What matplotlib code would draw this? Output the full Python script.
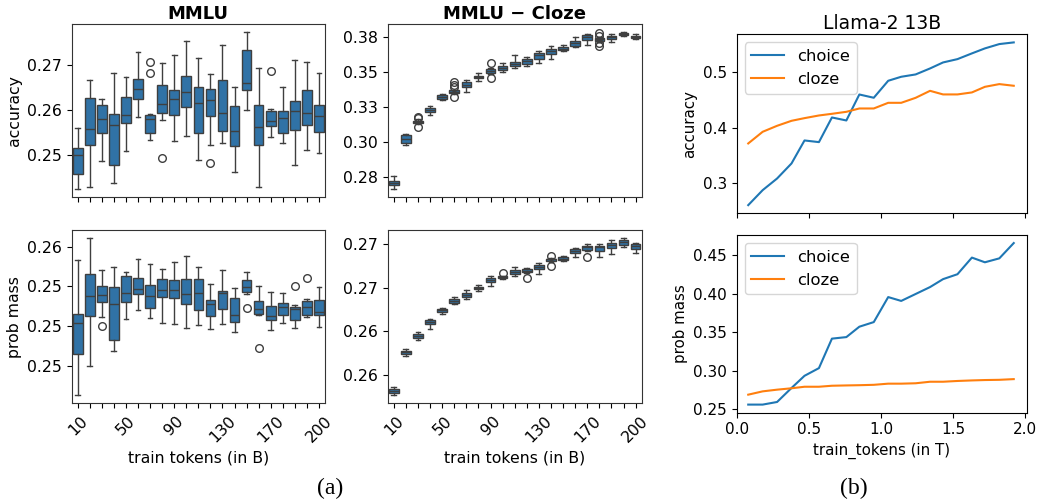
import matplotlib.pyplot as plt
from matplotlib.ticker import FormatStrFormatter

# 21 checkpoints per box panel, only every fourth one is labelled
tick_labels = ['10', '', '', '', '50', '', '', '', '90', '', '', '',
               '130', '', '', '', '170', '', '', '', '200']

# MMLU accuracy (box stats per checkpoint)
acc_whislo = [0.24252, 0.24289, 0.24874, 0.24385, 0.25089, 0.25837, 0.25326, 0.25778, 0.25311, 0.25422, 0.24881,
              0.25222, 0.25259, 0.24630, 0.26000, 0.24289, 0.25393, 0.25274, 0.24785, 0.25111, 0.25052]
acc_q1 = [0.24585, 0.25230, 0.25481, 0.24785, 0.25704, 0.26252, 0.25489, 0.25941, 0.25881, 0.26067, 0.25489,
          0.25874, 0.25533, 0.25207, 0.26437, 0.25222, 0.25637, 0.25489, 0.25563, 0.25667, 0.25511]
acc_med = [0.24993, 0.25570, 0.25807, 0.25659, 0.25881, 0.26459, 0.25807, 0.26126, 0.26252, 0.26400, 0.26163,
           0.26222, 0.25926, 0.25526, 0.26593, 0.25622, 0.25748, 0.25830, 0.25985, 0.25933, 0.25874]
acc_q3 = [0.25163, 0.26267, 0.26119, 0.25919, 0.26289, 0.26681, 0.25896, 0.26556, 0.26437, 0.26756, 0.26511,
          0.26474, 0.26667, 0.26081, 0.27341, 0.26119, 0.25970, 0.25970, 0.26193, 0.26452, 0.26104]
acc_whishi = [0.25607, 0.26659, 0.26252, 0.26822, 0.26741, 0.27289, 0.25919, 0.27052, 0.27215, 0.27526, 0.27163,
              0.26793, 0.27437, 0.26519, 0.27726, 0.26941, 0.26030, 0.26519, 0.27111, 0.27074, 0.26815]
acc_fliers = {6: [0.27067, 0.26822], 7: [0.24941], 11: [0.24830], 16: [0.26874]}

# MMLU - Cloze accuracy
cz_whislo = [0.26667, 0.29810, 0.31262, 0.31952, 0.33000, 0.33429, 0.33571, 0.34381, 0.34857, 0.35024, 0.35286,
             0.35405, 0.35619, 0.35952, 0.36476, 0.36786, 0.36929, 0.37119, 0.37119, 0.37571, 0.37310]
cz_q1 = [0.26952, 0.29952, 0.31357, 0.32167, 0.33071, 0.33500, 0.33905, 0.34571, 0.34929, 0.35119, 0.35429,
         0.35548, 0.35952, 0.36310, 0.36571, 0.36857, 0.37286, 0.37190, 0.37310, 0.37619, 0.37429]
cz_med = [0.27119, 0.30190, 0.31429, 0.32310, 0.33238, 0.33595, 0.34095, 0.34643, 0.35071, 0.35262, 0.35571,
          0.35786, 0.36190, 0.36476, 0.36667, 0.37071, 0.37476, 0.37310, 0.37452, 0.37714, 0.37500]
cz_q3 = [0.27262, 0.30476, 0.31524, 0.32429, 0.33357, 0.33690, 0.34262, 0.34738, 0.35190, 0.35429, 0.35738,
         0.35952, 0.36333, 0.36619, 0.36762, 0.37190, 0.37619, 0.37405, 0.37571, 0.37786, 0.37571]
cz_whishi = [0.27571, 0.30548, 0.31619, 0.32571, 0.33452, 0.33738, 0.34405, 0.34905, 0.35262, 0.35643, 0.36214,
             0.36095, 0.36476, 0.36833, 0.36881, 0.37476, 0.37690, 0.37452, 0.37667, 0.37833, 0.37714]
cz_fliers = {2: [0.31810, 0.31690, 0.31071], 5: [0.34286, 0.34095, 0.33952, 0.33190],
             8: [0.35619, 0.34548], 17: [0.37738, 0.37571, 0.37024, 0.36833]}

# MMLU prob mass on the answer options
pm_whislo = [0.24561, 0.24748, 0.25054, 0.24841, 0.25045, 0.25098, 0.25049, 0.25020, 0.25011, 0.24986, 0.25005,
             0.24984, 0.25011, 0.24962, 0.25202, 0.25069, 0.24977, 0.25022, 0.24990, 0.25054, 0.24994]
pm_q1 = [0.24826, 0.25064, 0.25154, 0.24913, 0.25154, 0.25200, 0.25111, 0.25181, 0.25175, 0.25139, 0.25100,
         0.25064, 0.25107, 0.25026, 0.25215, 0.25073, 0.25041, 0.25069, 0.25041, 0.25069, 0.25069]
pm_med = [0.25022, 0.25192, 0.25198, 0.25139, 0.25207, 0.25232, 0.25188, 0.25228, 0.25228, 0.25202, 0.25209,
          0.25139, 0.25207, 0.25071, 0.25249, 0.25105, 0.25062, 0.25120, 0.25107, 0.25117, 0.25086]
pm_q3 = [0.25075, 0.25326, 0.25253, 0.25249, 0.25315, 0.25302, 0.25258, 0.25294, 0.25288, 0.25298, 0.25298,
         0.25162, 0.25219, 0.25175, 0.25292, 0.25158, 0.25128, 0.25143, 0.25117, 0.25156, 0.25166]
pm_whishi = [0.25415, 0.25557, 0.25355, 0.25370, 0.25341, 0.25423, 0.25390, 0.25360, 0.25402, 0.25440, 0.25372,
             0.25266, 0.25351, 0.25241, 0.25343, 0.25251, 0.25213, 0.25207, 0.25135, 0.25171, 0.25245]
pm_fliers = {2: [0.25001], 14: [0.25113], 15: [0.24863], 18: [0.25253], 19: [0.25304]}

# MMLU - Cloze prob mass
cpm_whislo = [0.25260, 0.25713, 0.25903, 0.26023, 0.26198, 0.26310, 0.26372, 0.26457, 0.26519, 0.26601, 0.26640,
              0.26667, 0.26655, 0.26798, 0.26806, 0.26857, 0.26919, 0.26857, 0.26884, 0.26965, 0.26895]
cpm_q1 = [0.25291, 0.25736, 0.25922, 0.26081, 0.26217, 0.26322, 0.26391, 0.26481, 0.26570, 0.26609, 0.26659,
          0.26678, 0.26717, 0.26810, 0.26814, 0.26899, 0.26934, 0.26926, 0.26957, 0.26988, 0.26950]
cpm_med = [0.25310, 0.25760, 0.25950, 0.26109, 0.26240, 0.26345, 0.26419, 0.26496, 0.26593, 0.26620, 0.26686,
           0.26698, 0.26744, 0.26826, 0.26833, 0.26922, 0.26965, 0.26965, 0.26988, 0.27027, 0.26981]
cpm_q3 = [0.25329, 0.25775, 0.25973, 0.26128, 0.26260, 0.26368, 0.26442, 0.26508, 0.26616, 0.26632, 0.26705,
          0.26717, 0.26764, 0.26833, 0.26853, 0.26946, 0.26981, 0.26981, 0.27012, 0.27047, 0.27000]
cpm_whishi = [0.25353, 0.25791, 0.25988, 0.26140, 0.26271, 0.26388, 0.26469, 0.26527, 0.26636, 0.26635, 0.26736,
              0.26729, 0.26787, 0.26841, 0.26860, 0.26957, 0.27008, 0.27004, 0.27050, 0.27074, 0.27012]
cpm_fliers = {9: [0.26671], 11: [0.26616], 13: [0.26864, 0.26748], 16: [0.26853]}

# Llama-2 13B checkpoints (in T tokens)
tokens_t = [0.08, 0.18, 0.28, 0.38, 0.47, 0.57, 0.66, 0.76, 0.85, 0.95,
            1.05, 1.14, 1.24, 1.34, 1.43, 1.53, 1.63, 1.72, 1.82, 1.92]
choice_acc = [0.2607, 0.2877, 0.3087, 0.3358, 0.3772, 0.3742, 0.4186, 0.4132, 0.4600, 0.4541,
              0.4847, 0.4919, 0.4961, 0.5069, 0.5177, 0.5237, 0.5340, 0.5430, 0.5508, 0.5538]
cloze_acc = [0.3718, 0.3928, 0.4036, 0.4126, 0.4174, 0.4222, 0.4252, 0.4288, 0.4348, 0.4348,
             0.4450, 0.4450, 0.4540, 0.4666, 0.4601, 0.4601, 0.4637, 0.4738, 0.4787, 0.4757]
choice_pm = [0.2558, 0.2558, 0.2592, 0.2774, 0.2932, 0.3032, 0.3415, 0.3435, 0.3570, 0.3630,
             0.3955, 0.3905, 0.3995, 0.4085, 0.4188, 0.4252, 0.4468, 0.4407, 0.4458, 0.4657]
cloze_pm = [0.2687, 0.2730, 0.2752, 0.2770, 0.2790, 0.2790, 0.2803, 0.2807, 0.2810, 0.2815,
            0.2830, 0.2830, 0.2835, 0.2855, 0.2855, 0.2865, 0.2872, 0.2877, 0.2880, 0.2889]

BOX_FILL = '#3072a6'
BOX_LINE = '#3f3f3f'
FS = 11.3


def make_stats(whislo, q1, med, q3, whishi, fliers):
    stats = []
    for i in range(len(med)):
        stats.append(dict(whislo=whislo[i], q1=q1[i], med=med[i], q3=q3[i],
                          whishi=whishi[i], fliers=fliers.get(i, [])))
    return stats


def boxpanel(ax, stats, yticks, bottom=False, ylabel=None, title=None):
    lp = dict(color=BOX_LINE, linewidth=1.0)
    ax.bxp(stats, positions=range(len(stats)), widths=0.8, capwidths=0.4,
           patch_artist=True,
           boxprops=dict(facecolor=BOX_FILL, edgecolor=BOX_LINE, linewidth=1.0),
           medianprops=lp, whiskerprops=lp, capprops=lp,
           flierprops=dict(marker='o', markerfacecolor='none', markeredgecolor=BOX_LINE,
                           markersize=5.5, markeredgewidth=1.0))
    ax.set_xlim(-0.5, len(stats) - 0.5)
    ax.set_xticks(range(len(stats)))
    if bottom:
        ax.set_xticklabels(tick_labels, rotation=45, fontsize=FS)
        ax.set_xlabel('train tokens (in B)', fontsize=FS)
    else:
        ax.set_xticklabels([])
    ax.set_yticks(yticks)
    ax.yaxis.set_major_formatter(FormatStrFormatter('%.2f'))
    ax.tick_params(axis='y', labelsize=FS)
    for s in ax.spines.values():
        s.set_color('#333333')
    if ylabel:
        ax.set_ylabel(ylabel, fontsize=FS)
    if title:
        ax.set_title(title, fontsize=13, fontweight='bold', pad=4)


fig = plt.figure(figsize=(10.37, 5.01), dpi=100)

ax1 = fig.add_axes([0.0691, 0.6074, 0.2443, 0.3441])
ax2 = fig.add_axes([0.3739, 0.6074, 0.2449, 0.3441])
ax3 = fig.add_axes([0.0691, 0.1950, 0.2443, 0.3459])
ax4 = fig.add_axes([0.3739, 0.1950, 0.2449, 0.3459])

boxpanel(ax1, make_stats(acc_whislo, acc_q1, acc_med, acc_q3, acc_whishi, acc_fliers),
         [0.25, 0.26, 0.27], ylabel='accuracy', title='MMLU')
boxpanel(ax2, make_stats(cz_whislo, cz_q1, cz_med, cz_q3, cz_whishi, cz_fliers),
         [0.275, 0.300, 0.325, 0.350, 0.375], title='MMLU \u2212 Cloze')
boxpanel(ax3, make_stats(pm_whislo, pm_q1, pm_med, pm_q3, pm_whishi, pm_fliers),
         [0.2475, 0.2500, 0.2525, 0.2550], bottom=True, ylabel='prob mass')
boxpanel(ax4, make_stats(cpm_whislo, cpm_q1, cpm_med, cpm_q3, cpm_whishi, cpm_fliers),
         [0.255, 0.260, 0.265, 0.270], bottom=True)

# Llama-2 13B: choice vs cloze
ax5 = fig.add_axes([0.7104, 0.5743, 0.2797, 0.3573])
ax6 = fig.add_axes([0.7104, 0.1763, 0.2797, 0.3547])

ax5.plot(tokens_t, choice_acc, color='#1f77b4', label='choice')
ax5.plot(tokens_t, cloze_acc, color='#ff7f0e', label='cloze')
ax5.set_title('Llama-2 13B', fontsize=13.5, pad=4)
ax5.set_ylabel('accuracy', fontsize=10.8)
ax5.set_yticks([0.3, 0.4, 0.5])
ax5.legend(loc='upper left', fontsize=11.8)

ax6.plot(tokens_t, choice_pm, color='#1f77b4', label='choice')
ax6.plot(tokens_t, cloze_pm, color='#ff7f0e', label='cloze')
ax6.set_ylabel('prob mass', fontsize=10.8)
ax6.set_xlabel('train_tokens (in T)', fontsize=10.8)
ax6.legend(loc='upper left', fontsize=11.8)

for ax in (ax5, ax6):
    ax.set_xlim(0.0, 2.01)
    ax.set_xticks([0.0, 0.5, 1.0, 1.5, 2.0])
    ax.tick_params(labelsize=11)
ax5.set_xticklabels([])

fig.text(0.318, 0.026, '(a)', fontsize=17, family='Liberation Serif', ha='center', va='center')
fig.text(0.823, 0.026, '(b)', fontsize=17, family='Liberation Serif', ha='center', va='center')

fig.savefig('out.png', dpi=100)
